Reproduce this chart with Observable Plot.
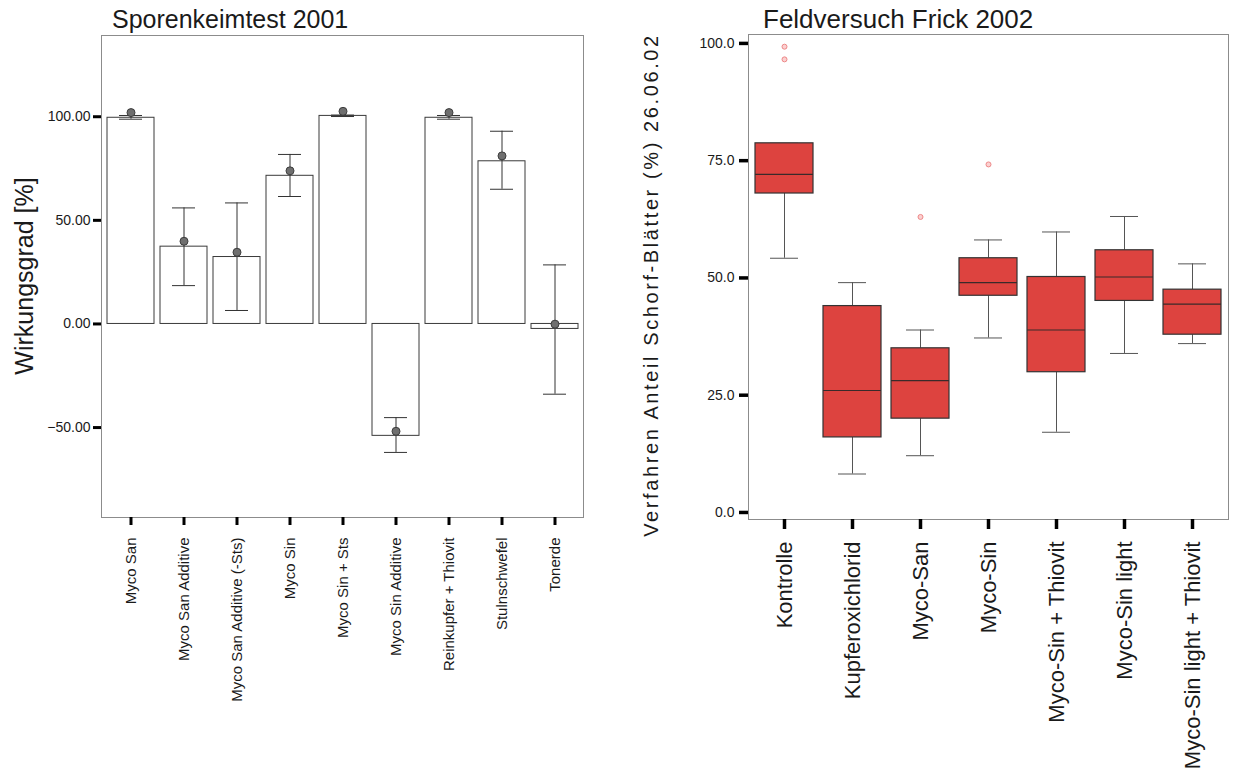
<!DOCTYPE html>
<html>
<head>
<meta charset="utf-8">
<script src="https://cdn.jsdelivr.net/npm/d3@7"></script>
<script src="https://cdn.jsdelivr.net/npm/@observablehq/plot@0.6"></script>
<style>
  html, body { margin: 0; padding: 0; background: #fff; }
  #root { position: relative; width: 1233px; height: 776px; overflow: hidden; font-family: "Liberation Sans", Arial, sans-serif; color: #1a1a1a; }
  .panel { position: absolute; top: 0; }
  .title { position: absolute; white-space: nowrap; line-height: 1; color: #1a1a1a; }
  .ylab { position: absolute; white-space: nowrap; line-height: 1; transform: translate(-50%, -50%) rotate(-90deg); color: #1a1a1a; }
</style>
</head>
<body>
<div id="root">
  <div id="left" class="panel" style="left:0px"></div>
  <div id="right" class="panel" style="left:620px"></div>
  <div class="title" style="left:112px; top:7px; font-size:25px;">Sporenkeimtest 2001</div>
  <div class="title" style="left:763px; top:6px; font-size:26px;">Feldversuch Frick 2002</div>
  <div class="ylab" style="left:24px; top:276px; font-size:25px;">Wirkungsgrad [%]</div>
  <div class="ylab" style="left:651px; top:285px; font-size:20px; letter-spacing:2.6px;">Verfahren Anteil Schorf-Blätter (%) 26.06.02</div>
</div>
<script>
// ---- Left chart: Sporenkeimtest 2001 ----
const leftCategories = ["Myco San", "Myco San Additive", "Myco San Additive (-Sts)", "Myco Sin", "Myco Sin + Sts", "Myco Sin Additive", "Reinkupfer + Thiovit", "Stulnschwefel", "Tonerde"];
const leftValues = [99.5, 37.3, 32.3, 71.5, 100.4, -54.0, 99.5, 78.5, -2.4];
const leftLower  = [98.8, 18.5, 6.5, 61.5, 100.1, -62.0, 98.8, 65.0, -33.9];
const leftUpper  = [100.6, 56.0, 58.4, 81.8, 100.8, -45.2, 100.6, 93.0, 28.5];
const leftMarker = [102.0, 39.9, 34.6, 73.9, 102.6, -51.8, 102.0, 81.1, -0.1];
const leftTicks = [-50, 0, 50, 100];

// ---- Right chart: Feldversuch Frick 2002 ----
const rightCategories = ["Kontrolle", "Kupferoxichlorid", "Myco-San", "Myco-Sin", "Myco-Sin + Thiovit", "Myco-Sin light", "Myco-Sin light + Thiovit"];
const rightQ1     = [68.0, 16.0, 20.0, 46.2, 29.9, 45.1, 37.9];
const rightMedian = [72.1, 26.0, 28.1, 49.0, 38.9, 50.2, 44.4];
const rightQ3     = [78.7, 44.0, 35.0, 54.2, 50.2, 55.9, 47.5];
const rightLow    = [54.2, 8.2, 12.1, 37.2, 17.1, 33.9, 36.0];
const rightHigh   = [78.7, 49.0, 38.9, 58.1, 59.8, 63.1, 53.0];
const outlierCategories = ["Kontrolle", "Kontrolle", "Myco-San", "Myco-Sin"];
const outlierValues = [99.3, 96.6, 63.0, 74.2];
const rightTicks = [0, 25, 50, 75, 100];

const FONT = "Liberation Sans, Arial, sans-serif";

const leftData = leftCategories.map((c, i) => ({cat: c, v: leftValues[i], lo: leftLower[i], hi: leftUpper[i], m: leftMarker[i]}));
const rightData = rightCategories.map((c, i) => ({cat: c, q1: rightQ1[i], med: rightMedian[i], q3: rightQ3[i], lo: rightLow[i], hi: rightHigh[i]}));
const outliers = outlierCategories.map((c, i) => ({cat: c, v: outlierValues[i]}));

const leftPlot = Plot.plot({
  width: 600, height: 776,
  marginLeft: 101, marginRight: 17, marginTop: 35, marginBottom: 259,
  style: {fontFamily: FONT, background: "transparent", color: "#1a1a1a"},
  x: {type: "band", domain: leftCategories, padding: 0},
  y: {domain: [-93.4, 139.2]},
  marks: [
    Plot.barY(leftData, {x: "cat", y1: 0, y2: "v", fill: "white", stroke: "#3a3a3a", strokeWidth: 1, insetLeft: 3, insetRight: 3}),
    Plot.ruleX(leftData, {x: "cat", y1: "lo", y2: "hi", stroke: "#333", strokeWidth: 1}),
    Plot.tickY(leftData, {x: "cat", y: "lo", stroke: "#333", strokeWidth: 1, insetLeft: 15, insetRight: 15}),
    Plot.tickY(leftData, {x: "cat", y: "hi", stroke: "#333", strokeWidth: 1, insetLeft: 15, insetRight: 15}),
    Plot.dot(leftData, {x: "cat", y: "m", r: 4, fill: "#6f6f6f", stroke: "#3d3d3d", strokeWidth: 1}),
    Plot.frame({stroke: "#8c8c8c", strokeWidth: 1}),
    Plot.axisY({ticks: leftTicks, tickFormat: d3.format(".2f"), tickSize: 8, tickPadding: 3, fontSize: 14, stroke: "#000", strokeWidth: 3, fill: "#1a1a1a", label: null}),
    Plot.axisX({tickSize: 8, tickPadding: 12, tickRotate: -90, textAnchor: "end", fontSize: 15, stroke: "#000", strokeWidth: 3, fill: "#1a1a1a", label: null})
  ]
});
document.getElementById("left").appendChild(leftPlot);

const rightPlot = Plot.plot({
  width: 613, height: 776,
  marginLeft: 128, marginRight: 5, marginTop: 34, marginBottom: 257,
  style: {fontFamily: FONT, background: "transparent", color: "#1a1a1a"},
  x: {type: "band", domain: rightCategories, padding: 0},
  y: {domain: [-1.5, 101.9]},
  marks: [
    Plot.ruleX(rightData, {x: "cat", y1: "q3", y2: "hi", stroke: "#555", strokeWidth: 1}),
    Plot.ruleX(rightData, {x: "cat", y1: "lo", y2: "q1", stroke: "#555", strokeWidth: 1}),
    Plot.tickY(rightData, {x: "cat", y: "hi", stroke: "#555", strokeWidth: 1, insetLeft: 20, insetRight: 20}),
    Plot.tickY(rightData, {x: "cat", y: "lo", stroke: "#555", strokeWidth: 1, insetLeft: 20, insetRight: 20}),
    Plot.barY(rightData, {x: "cat", y1: "q1", y2: "q3", fill: "#dd433f", stroke: "#333", strokeWidth: 1.2, insetLeft: 5, insetRight: 5}),
    Plot.tickY(rightData, {x: "cat", y: "med", stroke: "#3a2a2a", strokeWidth: 1.2, insetLeft: 5, insetRight: 5}),
    Plot.dot(outliers, {x: "cat", y: "v", r: 2.5, fill: "#fbd0d0", stroke: "#ee8888", strokeWidth: 1}),
    Plot.frame({stroke: "#8c8c8c", strokeWidth: 1}),
    Plot.axisY({ticks: rightTicks, tickFormat: d3.format(".1f"), tickSize: 9, tickPadding: 5, fontSize: 14, stroke: "#000", strokeWidth: 3.5, fill: "#1a1a1a", label: null}),
    Plot.axisX({tickSize: 10, tickPadding: 12, tickRotate: -90, textAnchor: "end", fontSize: 22, stroke: "#000", strokeWidth: 3.5, fill: "#1a1a1a", label: null})
  ]
});
document.getElementById("right").appendChild(rightPlot);
</script>
</body>
</html>
